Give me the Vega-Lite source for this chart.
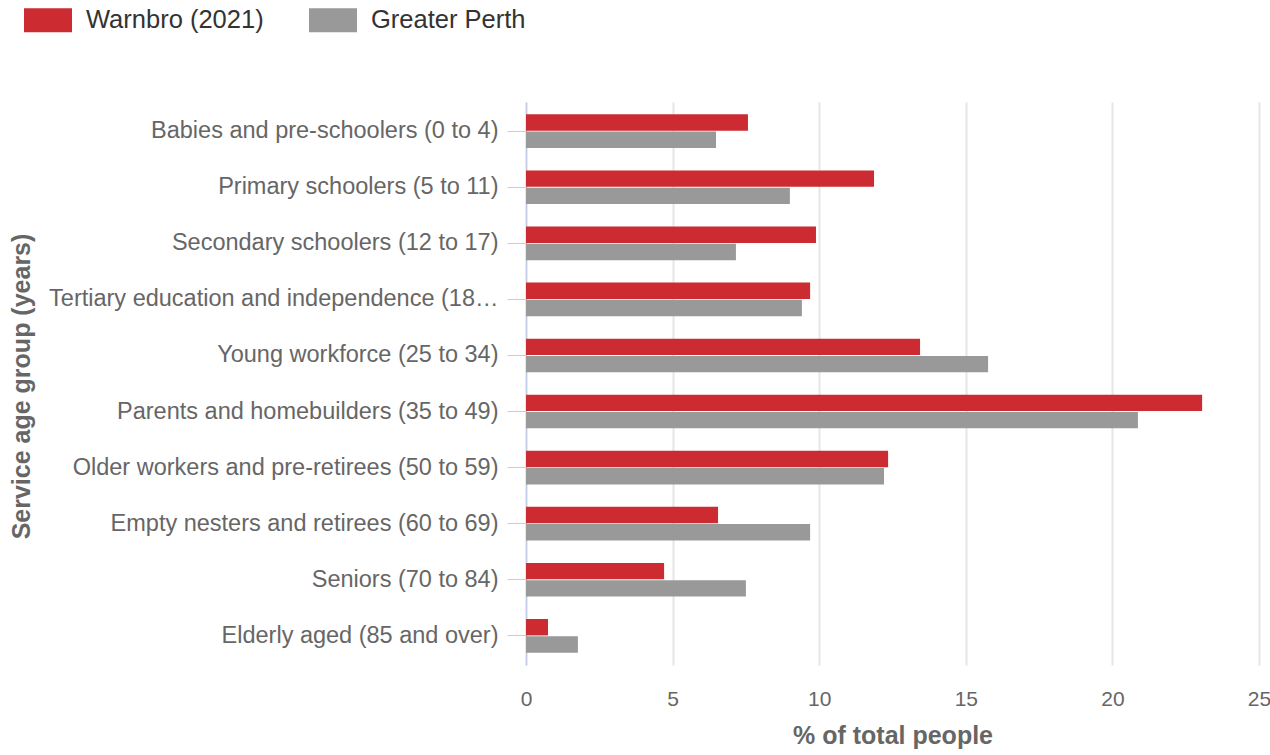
{
  "$schema": "https://vega.github.io/schema/vega-lite/v6.json",
  "width": 733,
  "height": 563,
  "autosize": {"type": "none"},
  "padding": {"left": 526, "top": 102, "right": 11, "bottom": 90},
  "background": "white",
  "config": {
    "view": {"stroke": null},
    "font": "Liberation Sans"
  },
  "data": {
    "values": [
      {"group": "Babies and pre-schoolers (0 to 4)", "series": "Warnbro (2021)", "value": 7.57},
      {"group": "Babies and pre-schoolers (0 to 4)", "series": "Greater Perth", "value": 6.48},
      {"group": "Primary schoolers (5 to 11)", "series": "Warnbro (2021)", "value": 11.87},
      {"group": "Primary schoolers (5 to 11)", "series": "Greater Perth", "value": 9.0},
      {"group": "Secondary schoolers (12 to 17)", "series": "Warnbro (2021)", "value": 9.89},
      {"group": "Secondary schoolers (12 to 17)", "series": "Greater Perth", "value": 7.16},
      {"group": "Tertiary education and independence (18 to 24)", "series": "Warnbro (2021)", "value": 9.69},
      {"group": "Tertiary education and independence (18 to 24)", "series": "Greater Perth", "value": 9.41},
      {"group": "Young workforce (25 to 34)", "series": "Warnbro (2021)", "value": 13.44},
      {"group": "Young workforce (25 to 34)", "series": "Greater Perth", "value": 15.76},
      {"group": "Parents and homebuilders (35 to 49)", "series": "Warnbro (2021)", "value": 23.06},
      {"group": "Parents and homebuilders (35 to 49)", "series": "Greater Perth", "value": 20.87},
      {"group": "Older workers and pre-retirees (50 to 59)", "series": "Warnbro (2021)", "value": 12.35},
      {"group": "Older workers and pre-retirees (50 to 59)", "series": "Greater Perth", "value": 12.21},
      {"group": "Empty nesters and retirees (60 to 69)", "series": "Warnbro (2021)", "value": 6.55},
      {"group": "Empty nesters and retirees (60 to 69)", "series": "Greater Perth", "value": 9.69},
      {"group": "Seniors (70 to 84)", "series": "Warnbro (2021)", "value": 4.71},
      {"group": "Seniors (70 to 84)", "series": "Greater Perth", "value": 7.5},
      {"group": "Elderly aged (85 and over)", "series": "Warnbro (2021)", "value": 0.75},
      {"group": "Elderly aged (85 and over)", "series": "Greater Perth", "value": 1.77}
    ]
  },
  "mark": {"type": "bar"},
  "encoding": {
    "y": {
      "field": "group",
      "type": "nominal",
      "sort": null,
      "scale": {"paddingInner": 0.4, "paddingOuter": 0.22},
      "axis": {
        "title": "Service age group (years)",
        "titleFontSize": 25,
        "titleFontWeight": "bold",
        "titleColor": "#666666",
        "titleX": -505,
        "titleY": 284,
        "titleAngle": -90,
        "titleAlign": "center",
        "titleBaseline": "middle",
        "labelFontSize": 23.5,
        "labelColor": "#666666",
        "labelLimit": 450,
        "labelPadding": 9,
        "tickSize": 19,
        "tickColor": "#c5cde6",
        "domainColor": "#c5cde6",
        "domainWidth": 1.5,
        "grid": false
      }
    },
    "yOffset": {
      "field": "series",
      "type": "nominal",
      "sort": ["Warnbro (2021)", "Greater Perth"],
      "scale": {"paddingInner": 0.05}
    },
    "x": {
      "field": "value",
      "type": "quantitative",
      "scale": {"domain": [0, 25], "nice": false},
      "axis": {
        "title": "% of total people",
        "titleFontSize": 25,
        "titleFontWeight": "bold",
        "titleColor": "#666666",
        "titlePadding": 14,
        "values": [0, 5, 10, 15, 20, 25],
        "labelFlush": false,
        "labelFontSize": 21,
        "labelColor": "#666666",
        "labelPadding": 23,
        "ticks": false,
        "domain": false,
        "grid": true,
        "gridColor": "#e6e6e6",
        "gridWidth": 2
      }
    },
    "color": {
      "field": "series",
      "type": "nominal",
      "sort": ["Warnbro (2021)", "Greater Perth"],
      "scale": {"domain": ["Warnbro (2021)", "Greater Perth"], "range": ["#cc2b31", "#999999"]},
      "legend": {
        "orient": "none",
        "legendX": -502,
        "legendY": -106,
        "direction": "horizontal",
        "title": null,
        "symbolType": "M-1,-0.5H1V0.5H-1Z",
        "symbolSize": 2304,
        "symbolStrokeWidth": 0,
        "labelFontSize": 25.5,
        "labelLimit": 400,
        "labelColor": "#333333",
        "columnPadding": 45,
        "labelOffset": 14
      }
    }
  }
}
